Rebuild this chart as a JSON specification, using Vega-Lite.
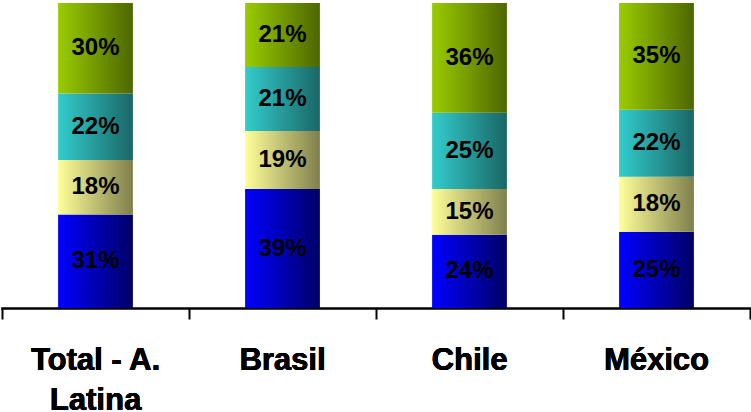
{
  "$schema": "https://vega.github.io/schema/vega-lite/v6.json",
  "width": 748,
  "height": 305,
  "autosize": {"type": "none"},
  "padding": {"left": 2, "top": 3, "right": 1, "bottom": 104},
  "background": "white",
  "config": {"view": {"stroke": null}},
  "data": {"values": [
    {"cat": "Total - A. Latina", "serie": "A", "ord": 1, "v": 31},
    {"cat": "Total - A. Latina", "serie": "B", "ord": 2, "v": 18},
    {"cat": "Total - A. Latina", "serie": "C", "ord": 3, "v": 22},
    {"cat": "Total - A. Latina", "serie": "D", "ord": 4, "v": 30},
    {"cat": "Brasil", "serie": "A", "ord": 1, "v": 39},
    {"cat": "Brasil", "serie": "B", "ord": 2, "v": 19},
    {"cat": "Brasil", "serie": "C", "ord": 3, "v": 21},
    {"cat": "Brasil", "serie": "D", "ord": 4, "v": 21},
    {"cat": "Chile", "serie": "A", "ord": 1, "v": 24},
    {"cat": "Chile", "serie": "B", "ord": 2, "v": 15},
    {"cat": "Chile", "serie": "C", "ord": 3, "v": 25},
    {"cat": "Chile", "serie": "D", "ord": 4, "v": 36},
    {"cat": "México", "serie": "A", "ord": 1, "v": 25},
    {"cat": "México", "serie": "B", "ord": 2, "v": 18},
    {"cat": "México", "serie": "C", "ord": 3, "v": 22},
    {"cat": "México", "serie": "D", "ord": 4, "v": 35}
  ]},
  "transform": [
    {"stack": "v", "groupby": ["cat"], "sort": [{"field": "ord", "order": "ascending"}], "offset": "normalize", "as": ["y0", "y1"]},
    {"calculate": "(datum.y0 + datum.y1) / 2", "as": "mid"},
    {"calculate": "datum.v + '%'", "as": "lbl"}
  ],
  "encoding": {
    "x": {
      "field": "cat", "type": "nominal", "sort": null,
      "scale": {"paddingInner": 0.6, "paddingOuter": 0.3},
      "axis": {
        "orient": "bottom", "title": null, "domain": false, "ticks": false, "labelAngle": 0,
        "labelFont": "Liberation Sans", "labelFontSize": 31, "labelFontWeight": "bold", "labelColor": "black",
        "labelPadding": 37, "labelLineHeight": 40, "labelBaseline": "top",
        "labelExpr": "datum.label == 'Total - A. Latina' ? ['Total - A.', 'Latina'] : datum.label"
      }
    }
  },
  "layer": [
    {
      "transform": [{"filter": "datum.serie == 'A'"}],
      "mark": {"type": "bar", "color": {"gradient": "linear", "x1": 0, "x2": 1, "y1": 0, "y2": 0, "stops": [{"offset": 0, "color": "#0000FF"}, {"offset": 1, "color": "#000066"}]}},
      "encoding": {
        "y": {"field": "y1", "type": "quantitative", "scale": {"domain": [0, 1], "nice": false}, "axis": null},
        "y2": {"field": "y0"}
      }
    },
    {
      "transform": [{"filter": "datum.serie == 'B'"}],
      "mark": {"type": "bar", "color": {"gradient": "linear", "x1": 0, "x2": 1, "y1": 0, "y2": 0, "stops": [{"offset": 0, "color": "#FFFF99"}, {"offset": 1, "color": "#7F7F4D"}]}},
      "encoding": {
        "y": {"field": "y1", "type": "quantitative", "scale": {"domain": [0, 1], "nice": false}, "axis": null},
        "y2": {"field": "y0"}
      }
    },
    {
      "transform": [{"filter": "datum.serie == 'C'"}],
      "mark": {"type": "bar", "color": {"gradient": "linear", "x1": 0, "x2": 1, "y1": 0, "y2": 0, "stops": [{"offset": 0, "color": "#33CCCC"}, {"offset": 1, "color": "#1A6666"}]}},
      "encoding": {
        "y": {"field": "y1", "type": "quantitative", "scale": {"domain": [0, 1], "nice": false}, "axis": null},
        "y2": {"field": "y0"}
      }
    },
    {
      "transform": [{"filter": "datum.serie == 'D'"}],
      "mark": {"type": "bar", "color": {"gradient": "linear", "x1": 0, "x2": 1, "y1": 0, "y2": 0, "stops": [{"offset": 0, "color": "#99CC00"}, {"offset": 1, "color": "#4D6600"}]}},
      "encoding": {
        "y": {"field": "y1", "type": "quantitative", "scale": {"domain": [0, 1], "nice": false}, "axis": null},
        "y2": {"field": "y0"}
      }
    },
    {
      "mark": {"type": "text", "font": "Liberation Sans", "fontSize": 24, "fontWeight": "bold", "color": "black", "baseline": "middle", "align": "center"},
      "encoding": {
        "y": {"field": "mid", "type": "quantitative", "scale": {"domain": [0, 1], "nice": false}, "axis": null},
        "text": {"field": "lbl"}
      }
    },
    {
      "mark": {"type": "rule", "strokeOpacity": 0},
      "encoding": {
        "x": {
          "datum": 0, "type": "quantitative",
          "scale": {"domain": [0, 4], "nice": false, "zero": false},
          "axis": {
            "orient": "bottom", "title": null, "values": [0, 1, 2, 3, 4], "labels": false, "grid": false,
            "domainColor": "black", "domainWidth": 2.5, "tickColor": "black", "tickWidth": 2, "tickSize": 11, "domainCap": "square"
          }
        }
      }
    }
  ],
  "resolve": {"scale": {"x": "independent"}, "axis": {"x": "independent"}}
}
